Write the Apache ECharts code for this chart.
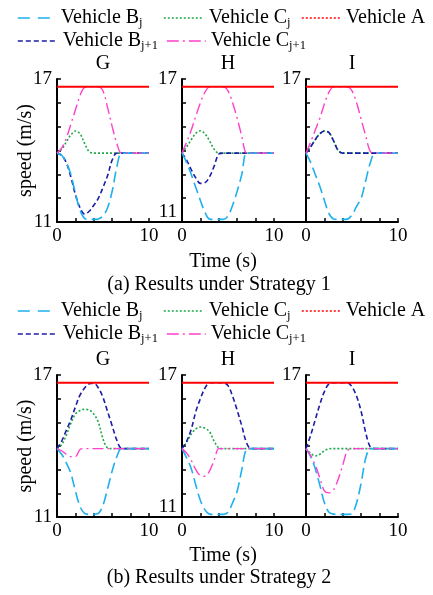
<!DOCTYPE html>
<html><head><meta charset="utf-8">
<script src="https://cdn.jsdelivr.net/npm/echarts@6/dist/echarts.min.js"></script>
<style>html,body{margin:0;padding:0;background:#fff}#c{width:433px;height:595px}</style>
</head><body><div id="c"></div><script>
// ---- data ----
const time = [0,0.5,1,1.5,2,2.5,3,3.5,4,4.5,5,5.5,6,6.5,7,7.5,8,8.5,9,9.5,10];
const vehA = [16.67,16.67,16.67,16.67,16.67,16.67,16.67,16.67,16.67,16.67,16.67,16.67,16.67,16.67,16.67,16.67,16.67,16.67,16.67,16.67,16.67];
const panelNames = ['G','H','I'];
const captions = ['(a) Results under Strategy 1','(b) Results under Strategy 2'];
const yTickLabels = ['17','11'];
const xTickLabels = ['0','10'];

// Strategy 1
const s1_G_Bj  = [13.89,13.8,13.5,13.0,12.2,11.5,11.15,11.11,11.11,11.13,11.25,11.6,12.3,13.3,13.89,13.89,13.89,13.89,13.89,13.89,13.89];
const s1_G_Bj1 = [13.89,13.8,13.5,12.9,12.15,11.6,11.33,11.45,11.7,12.0,12.45,12.95,13.6,13.89,13.89,13.89,13.89,13.89,13.89,13.89,13.89];
const s1_G_Cj  = [13.89,14.05,14.35,14.65,14.82,14.7,14.3,13.95,13.89,13.89,13.89,13.89,13.89,13.89,13.89,13.89,13.89,13.89,13.89,13.89,13.89];
const s1_G_Cj1 = [13.89,14.1,14.5,15.1,15.7,16.3,16.65,16.67,16.67,16.67,16.5,15.8,15.0,14.3,13.89,13.89,13.89,13.89,13.89,13.89,13.89];

const s1_H_Bj  = [13.89,13.5,13.0,12.45,11.9,11.4,11.12,11.11,11.11,11.11,11.25,11.7,12.3,13.0,13.89,13.89,13.89,13.89,13.89,13.89,13.89];
const s1_H_Bj1 = [13.89,13.6,13.2,12.85,12.62,12.65,12.9,13.35,13.85,13.89,13.89,13.89,13.89,13.89,13.89,13.89,13.89,13.89,13.89,13.89,13.89];
const s1_H_Cj  = [13.89,14.15,14.45,14.72,14.83,14.7,14.4,14.05,13.89,13.89,13.89,13.89,13.89,13.89,13.89,13.89,13.89,13.89,13.89,13.89,13.89];
const s1_H_Cj1 = [13.89,14.35,14.85,15.45,16.0,16.45,16.67,16.67,16.67,16.67,16.5,16.0,15.35,14.6,13.9,13.89,13.89,13.89,13.89,13.89,13.89];

const s1_I_Bj  = [13.89,13.5,13.0,12.5,11.9,11.35,11.13,11.11,11.11,11.12,11.3,11.66,12.0,12.75,13.5,13.89,13.89,13.89,13.89,13.89,13.89];
const s1_I_Bj1 = [13.89,14.15,14.45,14.7,14.82,14.75,14.4,14.0,13.89,13.89,13.89,13.89,13.89,13.89,13.89,13.89,13.89,13.89,13.89,13.89,13.89];
const s1_I_Cj  = [13.89,14.15,14.45,14.7,14.82,14.75,14.4,14.0,13.89,13.89,13.89,13.89,13.89,13.89,13.89,13.89,13.89,13.89,13.89,13.89,13.89];
const s1_I_Cj1 = [13.89,14.35,14.85,15.35,15.95,16.45,16.67,16.67,16.67,16.67,16.5,16.0,15.3,14.6,13.95,13.89,13.89,13.89,13.89,13.89,13.89];

// Strategy 2
const s2_G_Bj  = [13.89,13.65,13.3,12.85,12.1,11.45,11.15,11.11,11.11,11.15,11.5,12.2,12.95,13.55,13.89,13.89,13.89,13.89,13.89,13.89,13.89];
const s2_G_Bj1 = [13.89,14.2,14.65,15.1,15.65,16.15,16.45,16.63,16.65,16.45,16.05,15.45,14.85,14.25,13.9,13.89,13.89,13.89,13.89,13.89,13.89];
const s2_G_Cj  = [13.89,14.05,14.45,14.95,15.35,15.5,15.55,15.52,15.35,15.0,14.3,13.92,13.89,13.89,13.89,13.89,13.89,13.89,13.89,13.89,13.89];
const s2_G_Cj1 = [13.89,13.8,13.65,13.55,13.55,13.85,13.89,13.89,13.89,13.89,13.89,13.89,13.89,13.89,13.89,13.89,13.89,13.89,13.89,13.89,13.89];

const s2_H_Bj  = [13.89,13.5,13.05,12.35,11.7,11.3,11.12,11.11,11.11,11.11,11.2,11.6,12.1,13.0,13.85,13.89,13.89,13.89,13.89,13.89,13.89];
const s2_H_Bj1 = [13.89,14.2,14.7,15.45,16.0,16.45,16.67,16.67,16.67,16.67,16.55,16.1,15.5,14.85,14.15,13.89,13.89,13.89,13.89,13.89,13.89];
const s2_H_Cj  = [13.89,14.15,14.5,14.72,14.8,14.75,14.6,14.2,13.92,13.89,13.89,13.89,13.89,13.89,13.89,13.89,13.89,13.89,13.89,13.89,13.89];
const s2_H_Cj1 = [13.89,13.7,13.4,13.0,12.75,12.72,12.95,13.4,13.89,13.89,13.89,13.89,13.89,13.89,13.89,13.89,13.89,13.89,13.89,13.89,13.89];

const s2_I_Bj  = [13.89,13.55,13.05,12.35,11.6,11.2,11.12,11.11,11.11,11.11,11.15,11.6,12.45,13.5,13.89,13.89,13.89,13.89,13.89,13.89,13.89];
const s2_I_Bj1 = [13.89,14.45,15.1,15.75,16.3,16.63,16.67,16.67,16.67,16.67,16.5,16.1,15.45,14.55,13.95,13.89,13.89,13.89,13.89,13.89,13.89];
const s2_I_Cj  = [13.89,13.7,13.58,13.65,13.8,13.88,13.89,13.89,13.89,13.89,13.89,13.89,13.89,13.89,13.89,13.89,13.89,13.89,13.89,13.89,13.89];
const s2_I_Cj1 = [13.89,13.6,13.2,12.65,12.1,12.02,12.15,12.6,13.2,13.8,13.89,13.89,13.89,13.89,13.89,13.89,13.89,13.89,13.89,13.89,13.89];

const panels = [
  {Bj:s1_G_Bj, Bj1:s1_G_Bj1, Cj:s1_G_Cj, Cj1:s1_G_Cj1},
  {Bj:s1_H_Bj, Bj1:s1_H_Bj1, Cj:s1_H_Cj, Cj1:s1_H_Cj1},
  {Bj:s1_I_Bj, Bj1:s1_I_Bj1, Cj:s1_I_Cj, Cj1:s1_I_Cj1},
  {Bj:s2_G_Bj, Bj1:s2_G_Bj1, Cj:s2_G_Cj, Cj1:s2_G_Cj1},
  {Bj:s2_H_Bj, Bj1:s2_H_Bj1, Cj:s2_H_Cj, Cj1:s2_H_Cj1},
  {Bj:s2_I_Bj, Bj1:s2_I_Bj1, Cj:s2_I_Cj, Cj1:s2_I_Cj1}
];

// ---- styles / layout ----
const FONT = '"Liberation Serif", "Times New Roman", serif';
const STY = {
  Bj:  {name:'Vehicle Bj',   color:'#1eb0ee', type:[11,5],      width:1.6},
  Cj:  {name:'Vehicle Cj',   color:'#1fa84a', type:[2,2],       width:1.6},
  A:   {name:'Vehicle A',    color:'#ff0000', type:'solid',     width:2},
  Bj1: {name:'Vehicle Bj+1', color:'#1c1ca6', type:[5,3],       width:1.6},
  Cj1: {name:'Vehicle Cj+1', color:'#ff40cc', type:[11,4,2,4],  width:1.4}
};
const colsLeft = [57, 182, 306];
const plotW = 92;
const rowsTop = [79, 375];
const plotH = [143, 142];

const grids = [], xAxes = [], yAxes = [], series = [];
for (let p = 0; p < 6; p++) {
  const r = Math.floor(p / 3), c = p % 3;
  grids.push({left: colsLeft[c], top: rowsTop[r], width: plotW, height: plotH[r], containLabel: false});
  xAxes.push({
    type:'value', gridIndex:p, min:0, max:10, interval:2,
    axisLine:{lineStyle:{color:'#000', width:2}},
    axisTick:{inside:true, length:4, lineStyle:{color:'#000', width:1.5}},
    splitLine:{show:false},
    axisLabel:{color:'#000', fontFamily:FONT, fontSize:19, margin:5,
      formatter: v => (v===0 ? xTickLabels[0] : (v===10 ? xTickLabels[1] : ''))}
  });
  yAxes.push({
    type:'value', gridIndex:p, min:11, max:17, interval:1,
    name: c===0 ? 'speed (m/s)' : '', nameLocation:'middle', nameGap:21, nameMoveOverlap:false,
    nameTextStyle:{color:'#000', fontFamily:FONT, fontSize:20},
    axisLine:{show:true, lineStyle:{color:'#000', width:2}},
    axisTick:{show:true, inside:true, length:4, lineStyle:{color:'#000', width:1.5}},
    splitLine:{show:false},
    axisLabel:{color:'#000', fontFamily:FONT, fontSize:19, margin:5,
      rich:{up:{fontFamily:FONT, fontSize:19, color:'#000', padding:[0,0,20,0]}},
      formatter: v => {
        if (v===17) return yTickLabels[0];
        if (v===11) { if (c===0) return yTickLabels[1]; if (c===1) return '{up|' + yTickLabels[1] + '}'; }
        return '';
      }}
  });
  const d = panels[p];
  const order = ['Cj','Bj1','Bj','Cj1','A'];
  order.forEach(k => {
    const arr = k==='A' ? vehA : d[k];
    series.push({
      type:'line', name: STY[k].name, xAxisIndex:p, yAxisIndex:p,
      data: time.map((t,i)=>[t, arr[i]]),
      showSymbol:false, symbol:'none', smooth:0.35, animation:false,
      lineStyle:{color:STY[k].color, type:STY[k].type, width:STY[k].width},
      itemStyle:{color:STY[k].color}
    });
  });
}

// legends (two rows, per strategy)
const legendDefs = [
  {k:'Bj',  label:'Vehicle B{s|j}',   left:17,  row:0, w:34, gap:4, type:[12,8]},
  {k:'Cj',  label:'Vehicle C{s|j}',   left:163, row:0, w:39, gap:1, type:[2,2]},
  {k:'A',   label:'Vehicle A',        left:301, row:0, w:38, gap:1, type:[2,2]},
  {k:'Bj1', label:'Vehicle B{s|j+1}', left:17,  row:1, w:37, gap:3, type:[5,3]},
  {k:'Cj1', label:'Vehicle C{s|j+1}', left:166, row:1, w:39, gap:0, type:[12,4,2,4]}
];
const legendRowsY = [[19, 42], [312, 335]];
const legends = [];
legendRowsY.forEach(rows => {
  legendDefs.forEach(L => {
    legends.push({
      show:true, orient:'horizontal',
      left:L.left, top: rows[L.row] - 11, padding:0, itemGap:0,
      itemWidth:L.w, itemHeight:12, selectedMode:false,
      data:[{name:STY[L.k].name,
        itemStyle:{color:'rgba(0,0,0,0)', borderWidth:0, opacity:0},
        lineStyle:{color:STY[L.k].color, type:L.type, width:1.6}}],
      formatter: () => L.label,
      textStyle:{color:'#000', fontFamily:FONT, fontSize:20, padding:[0,0,0,L.gap],
        rich:{s:{fontFamily:FONT, fontSize:12.5, color:'#000', padding:[10,0,0,0]}}}
    });
  });
});

const graphics = [];
rowsTop.forEach((top, r) => {
  panelNames.forEach((n, c) => {
    graphics.push({type:'text', x: colsLeft[c] + plotW/2, y: top - 15,
      style:{text:n, font:'20px ' + FONT, fill:'#000', textAlign:'center', textVerticalAlign:'middle'}});
  });
  const yAx = top + plotH[r];
  graphics.push({type:'line', shape:{x1:colsLeft[0], y1:yAx, x2:colsLeft[2]+plotW, y2:yAx},
    style:{stroke:'#000', lineWidth:2}, z:10});
});
[[262, 285], [556, 578]].forEach((ys, r) => {
  graphics.push({type:'text', x:223, y:ys[0],
    style:{text:'Time (s)', font:'20px ' + FONT, fill:'#000', textAlign:'center', textVerticalAlign:'middle'}});
  graphics.push({type:'text', x:219, y:ys[1],
    style:{text:captions[r], font:'20px ' + FONT, fill:'#000', textAlign:'center', textVerticalAlign:'middle'}});
});

const chart = echarts.init(document.getElementById('c'), null, {renderer:'canvas'});
chart.setOption({
  animation:false,
  backgroundColor:'#fff',
  grid:grids, xAxis:xAxes, yAxis:yAxes, series:series,
  legend:legends, graphic:graphics
});
</script></body></html>
